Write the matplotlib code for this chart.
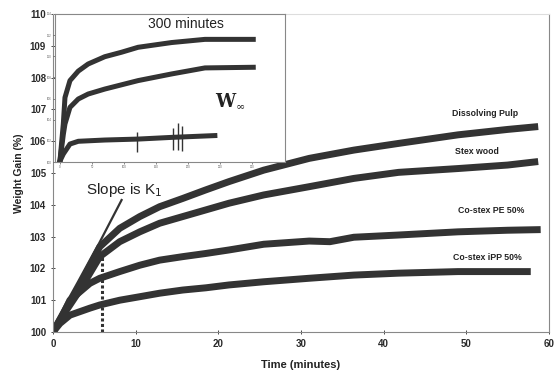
import matplotlib
matplotlib.use('Agg')
import matplotlib.pyplot as plt

plt.rcParams['font.family'] = ['Liberation Sans', 'DejaVu Sans']

# main plot: weight gain (%) vs time (minutes)
pulp_t = [0, 0.84, 3.25, 5.66, 8.07, 10.5, 12.9, 15.7, 18.5, 21.3, 25.5, 31.0, 36.4, 41.8, 49.0, 55.0, 58.7]
pulp_w = [100.0, 100.4, 101.53, 102.68, 103.26, 103.63, 103.94, 104.2, 104.47, 104.73, 105.09, 105.46, 105.72, 105.93, 106.2, 106.37, 106.46]

stex_t = [0, 0.84, 3.25, 5.66, 8.07, 10.5, 12.9, 15.7, 18.5, 21.3, 25.5, 31.0, 36.4, 41.8, 49.0, 55.0, 58.7]
stex_w = [100.0, 100.38, 101.32, 102.37, 102.84, 103.15, 103.42, 103.63, 103.84, 104.05, 104.31, 104.57, 104.83, 105.02, 105.14, 105.25, 105.36]

pe_t = [0, 0.84, 2.05, 4.46, 5.66, 8.07, 10.5, 12.9, 15.7, 18.5, 21.3, 25.5, 31.0, 33.5, 36.4, 41.8, 49.0, 55.0, 59.0]
pe_w = [100.0, 100.35, 101.0, 101.53, 101.69, 101.9, 102.1, 102.26, 102.37, 102.47, 102.58, 102.76, 102.86, 102.84, 102.98, 103.05, 103.15, 103.2, 103.22]

ipp_t = [0, 0.84, 2.05, 4.46, 5.66, 8.07, 10.5, 12.9, 15.7, 18.5, 21.3, 25.5, 31.0, 36.4, 41.8, 49.0, 57.8]
ipp_w = [100.0, 100.27, 100.53, 100.75, 100.85, 101.0, 101.11, 101.22, 101.32, 101.39, 101.48, 101.58, 101.69, 101.79, 101.85, 101.9, 101.9]

slope_t = [0, 8.3]
slope_w = [100.0, 104.15]
k1_time = 5.9
k1_top = 102.45

# inset: 300 minute runs
in_top_t = [0, 5.2, 7.8, 15.6, 28.6, 44, 70, 96, 122, 174.5, 226.5, 302]
in_top_w = [100.1, 103.6, 106.1, 107.7, 108.6, 109.27, 109.96, 110.38, 110.85, 111.3, 111.6, 111.6]
in_mid_t = [0, 5.2, 7.8, 15.6, 28.6, 44, 70, 96, 122, 174.5, 226.5, 302]
in_mid_w = [100.1, 102.6, 103.6, 105.17, 105.96, 106.43, 106.9, 107.3, 107.7, 108.33, 108.9, 108.96]
in_low_t = [0, 5.2, 15.6, 28.6, 70, 122, 174.5, 242]
in_low_w = [100.1, 100.76, 101.7, 101.96, 102.08, 102.17, 102.33, 102.5]
spike_t = [120, 177, 185, 190]
spike_lo = [100.9, 101.1, 101.1, 101.0]
spike_hi = [102.8, 103.2, 103.7, 103.4]

labels = ['Dissolving Pulp', 'Stex wood', 'Co-stex PE 50%', 'Co-stex iPP 50%']
label_pos = [(52.3, 106.88), (51.3, 105.69), (53.0, 103.81), (52.6, 102.33)]

ink = '#333333'
spine_c = '#888888'

fig = plt.figure(figsize=(5.56, 3.71), dpi=100)
ax = fig.add_axes([0.0953, 0.1051, 0.892, 0.8572])

for t, w in [(pulp_t, pulp_w), (stex_t, stex_w), (pe_t, pe_w), (ipp_t, ipp_w)]:
    ax.plot(t, w, color=ink, lw=5.0, solid_capstyle='butt', solid_joinstyle='round')

ax.plot(slope_t, slope_w, color=ink, lw=1.6)
ax.plot([k1_time, k1_time], [100, k1_top], color=ink, lw=2.2, ls=(0, (1, 0.8)))

for name, (x, y) in zip(labels, label_pos):
    ax.text(x, y, name, fontsize=6.3, fontweight='bold', color='#222222', ha='center', va='center')

ax.text(8.6, 104.47, 'Slope is K$_1$', fontsize=11, color='#222222', ha='center', va='center')

ax.set_xlim(0, 60)
ax.set_ylim(100, 110)
ax.set_xticks(range(0, 61, 10))
ax.set_yticks(range(100, 111))
ax.tick_params(labelsize=7, colors='#2a2a2a', length=3, width=0.6, direction='inout')
for lab in ax.get_xticklabels() + ax.get_yticklabels():
    lab.set_fontweight('bold')
for s in ax.spines.values():
    s.set_color(spine_c)
    s.set_linewidth(0.8)
ax.spines['top'].set_color('#dddddd')
ax.set_xlabel('Time (minutes)', fontsize=8, fontweight='bold', color='#222222', labelpad=8)
ax.set_ylabel('Weight Gain (%)', fontsize=7.5, fontweight='bold', color='#222222', labelpad=4)

ins = fig.add_axes([0.0989, 0.5633, 0.4137, 0.3990])
ins.set_facecolor('white')
for t, w in [(in_top_t, in_top_w), (in_mid_t, in_mid_w), (in_low_t, in_low_w)]:
    ins.plot(t, w, color=ink, lw=3.6, solid_joinstyle='round')
ins.vlines(spike_t, spike_lo, spike_hi, color=ink, lw=1.0)
ins.set_xlim(-7.8, 351.6)
ins.set_ylim(100, 114)
ins.set_xticks(range(0, 301, 50))
ins.set_yticks(range(100, 115, 2))
ins.tick_params(labelsize=2, colors='#555555', length=1.5, width=0.5, pad=1)
for s in ins.spines.values():
    s.set_color(spine_c)
    s.set_linewidth(0.8)
ins.text(0.57, 0.935, '300 minutes', transform=ins.transAxes, fontsize=10, color='#222222',
         ha='center', va='center')
ins.text(0.74, 0.405, 'W', transform=ins.transAxes, fontsize=13, fontweight='bold',
         color='#222222', ha='center', va='center', family='DejaVu Serif')
ins.text(0.805, 0.38, '\u221e', transform=ins.transAxes, fontsize=8,
         color='#222222', ha='center', va='center', family='DejaVu Serif')

fig.savefig('out.png', dpi=100)
